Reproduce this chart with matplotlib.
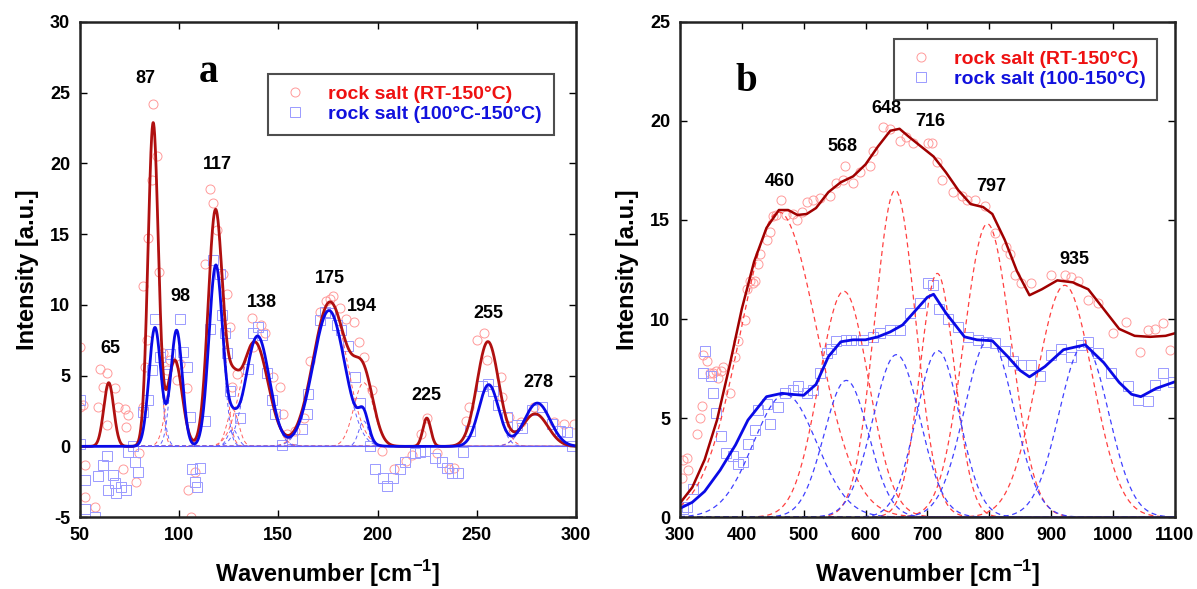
import matplotlib.pyplot as plt
import numpy as np

plt.rcParams['font.family'] = ['Liberation Sans', 'DejaVu Sans']
plt.rcParams['font.weight'] = 'bold'
plt.rcParams['axes.labelweight'] = 'bold'
plt.rcParams['axes.unicode_minus'] = False
plt.rcParams['mathtext.fontset'] = 'custom'
plt.rcParams['mathtext.bf'] = 'Liberation Sans:bold'
plt.rcParams['mathtext.rm'] = 'Liberation Sans:bold'

# ---------------- panel a : measured points ----------------
a_red_x = [50, 50, 51.7, 52.4, 52.4, 57.4, 59.2, 60, 61.7, 63.4, 63.4, 67.5, 69.2, 71.6, 72.5, 73.3,
           74.2, 78.3, 80, 81.7, 81.9, 82.8, 83.6, 84.4, 86.1, 86.9, 88.6, 90, 92, 93.7, 95.4, 98.7,
           100.4, 103.8, 104.6, 106, 108, 113, 115.5, 117.2, 118.9, 122.2, 123.9, 125.6, 126.4, 129,
           136.5, 137.4, 141, 143.2, 147.4, 150.8, 152.5, 154.2, 158.4, 163, 166, 171, 174, 176, 177.7,
           181, 184, 188.1, 190.6, 193.1, 197.3, 202.4, 208.3, 214.2, 217.5, 221.7, 225.1, 230.1, 236,
           238.5, 244.4, 246.1, 250.3, 253.6, 255.3, 262, 262.9, 266.3, 272.2, 278.9, 289, 294, 299.1]
a_red_y = [7.0, 2.8, 2.9, -1.35, -3.6, -4.3, 2.8, 5.5, 4.2, 5.2, 1.5, 4.1, 2.8, -1.6, 2.65, 1.4,
           2.2, -2.5, -0.5, 2.8, 11.3, 5.6, 7.5, 14.7, 18.8, 24.2, 20.5, 12.3, 6.6, 5.4, 6.1, 4.7,
           5.8, 4.1, -3.1, -5.0, -1.8, 12.9, 18.2, 17.2, 15.3, 12.2, 10.8, 8.4, 4.2, 5.1,
           9.1, 7.0, 8.6, 8.0, 4.9, 4.2, 2.3, 0.9, 1.1, 2.0, 6.0, 9.5, 10.3, 10.4, 10.6,
           9.8, 9.0, 8.8, 7.4, 6.3, 4.0, -0.3, -1.6, -1.0, -0.6, 0.9, 2.0, -0.5, -1.6,
           -1.5, 1.8, 2.8, 7.5, 8.0, 6.1, 4.9, 3.5, 2.1, 1.7, 2.8, 1.7, 1.6, 1.6]

a_blue_x = [50, 50, 52.4, 52.4, 57.4, 59, 61.7, 63.4, 64.2, 66.7, 67.5, 68.4, 70.9, 73.4, 74.2, 76.7,
            77.6, 79.3, 81.7, 84.4, 86.1, 87.8, 90.3, 92.8, 95.4, 100.4, 102.1, 103.8, 105.4, 106.3,
            108, 108.8, 110.5, 113, 115.5, 117.2, 120.6, 121.4, 123.1, 123.9, 125.6, 130.6, 134.8,
            137.4, 139.9, 141.6, 144.1, 146.6, 148.3, 151.6, 156.7, 161.7, 164.2, 165.1, 170.9, 173.4,
            175.9, 179.3, 181.8, 185.2, 188.5, 191.1, 196.1, 198.6, 202.8, 204.5, 207.9, 211.2, 213.8,
            218.8, 221.3, 223.9, 228.9, 232.3, 234.8, 237.3, 240.7, 243.2, 246.6, 252.5, 255.9, 258.4,
            260.9, 265.1, 270.2, 272.7, 277.8, 282.8, 287.9, 292.1, 295.5, 298]
a_blue_y = [3.3, 0.2, -2.4, -4.4, -5.0, -2.1, -1.35, -0.7, -3.1, -2.0, -2.6, -3.3, -2.9, -3.1, -0.4, 0.0,
            -1.1, -1.8, 2.4, 3.3, 5.4, 9.0, 6.3, 5.1, 6.5, 9.0, 6.7, 5.6, 2.1, -1.6,
            -2.5, -2.9, -1.5, 1.8, 8.3, 13.2, 12.2, 9.3, 8.0, 6.6, 3.9, 2.0, 5.5,
            8.0, 8.4, 7.9, 5.2, 3.3, 2.3, 0.1, 0.5, 1.2, 2.3, 3.7, 8.9, 9.5,
            9.4, 8.6, 8.2, 7.1, 4.9, 3.1, 0.0, -1.6, -2.2, -2.8, -2.2, -1.6, -1.1,
            -0.5, -0.4, -0.3, -0.8, -1.1, -1.5, -1.9, -1.9, -0.4, 1.1, 4.3, 4.4, 3.9,
            2.9, 2.1, 1.5, 1.3, 2.6, 2.8, 1.6, 1.1, 1.0, 0.0]

# panel a : fitted gaussian bands (centre, height, width)
a_red_pos = [64.5, 86.9, 97.8, 118.3, 127, 138, 176, 193, 224.8, 255.6, 279.4]
a_red_amp = [4.5, 22.8, 6.1, 16.6, 2.6, 7.4, 10.2, 4.5, 2.0, 7.4, 2.3]
a_red_wid = [2.5, 2.6, 3.7, 3.7, 3.0, 6.8, 8.4, 5.0, 2.0, 5.5, 6.5]

a_blue_pos = [87.8, 98.7, 118.5, 127, 139.5, 175.5, 193, 256, 280.5]
a_blue_amp = [8.4, 8.2, 12.8, 1.2, 7.8, 9.6, 1.8, 4.36, 3.06]
a_blue_wid = [3.0, 2.9, 3.5, 2.5, 6.0, 8.0, 2.5, 5.0, 6.5]

a_labels = ['65', '87', '98', '117', '138', '175', '194', '225', '255', '278']
a_label_x = [65.1, 83.1, 100.4, 119.2, 141.6, 176, 192, 224.7, 255.8, 281]
a_label_y = [6.9, 26.0, 10.56, 19.9, 10.2, 11.86, 9.85, 3.6, 9.38, 4.48]

# ---------------- panel b ----------------
b_red_x = [303, 305, 311, 313, 327, 332, 335, 338, 343, 348.5, 354, 359, 362, 367, 370, 381, 389, 394,
           405, 408, 413, 418.5, 421, 427, 429, 440, 445.5, 451, 456, 464, 472, 483, 488.5, 497, 505,
           515.5, 526, 542, 553, 564, 567, 580, 591, 607, 612.5, 628.6, 639, 655.6, 666, 677, 701.3,
           706.7, 714.8, 722.9, 741.7, 755.2, 763.3, 776.8, 793, 809, 827.8, 833, 841.3, 852, 868,
           900.4, 922, 932.5, 943.3, 959.5, 975.6, 999.8, 1021.3, 1042.9, 1056.4, 1067.1, 1080.6, 1091.4]
b_red_y = [1.96, 2.88, 2.97, 2.4, 4.2, 5.0, 5.6, 8.2, 7.9, 7.3, 7.3, 7.4, 7.0, 7.4, 7.6, 6.25, 8.1, 8.9,
           9.95, 11.5, 11.9, 11.8, 11.9, 12.8, 13.3, 14.0, 14.4, 15.2, 15.25, 16.0, 15.25, 15.3, 15.0, 15.4, 15.9,
           16.0, 16.1, 16.2, 16.85, 17.0, 17.7, 16.85, 17.4, 17.7, 18.5, 19.7, 19.6, 19.0, 19.2, 18.9, 18.87,
           18.87, 17.9, 17.0, 16.4, 16.2, 16.0, 16.0, 15.7, 14.33, 13.65, 13.3, 12.2, 11.8, 11.8,
           12.2, 12.2, 12.1, 11.9, 10.96, 10.8, 9.3, 9.86, 8.35, 9.45, 9.5, 9.8, 8.44]

b_blue_x = [305, 311, 321.5, 338, 340, 351, 354, 359, 367, 375, 386, 394, 402, 410, 421, 427, 440,
            445.5, 459, 470, 483, 491, 505, 515.5, 526, 537, 545, 553, 569, 577, 596, 612.5, 623, 639,
            655.6, 671.7, 688, 701, 709, 719.5, 733, 749, 765.6, 781.8, 795.3, 808.8, 825, 838.4, 852,
            868, 881.5, 900.4, 916.5, 932.5, 948.7, 959.5, 975.6, 997.1, 1024, 1040.2, 1056.4, 1067.1,
            1080.6, 1096.7]
b_blue_y = [0.4, 0.5, 1.41, 7.26, 8.4, 7.1, 6.25, 5.24, 4.1, 3.25, 3.1, 2.7, 2.8, 3.7, 4.4, 5.4, 5.7,
            4.7, 5.55, 6.25, 6.4, 6.6, 6.25, 6.4, 7.25, 8.27, 8.5, 8.9, 8.94, 8.94, 8.94, 9.1, 9.28, 9.45,
            9.45, 10.3, 10.8, 11.8, 11.72, 10.5, 10.0, 9.6, 9.1, 8.94, 8.85, 8.77, 8.4, 7.9, 7.68,
            7.68, 7.1, 8.2, 8.5, 8.1, 8.7, 8.85, 8.27, 7.26, 6.6, 5.9, 5.85, 6.65,
            7.26, 6.83]

# smoothed traces
b_fit_red_x = [300, 320, 340, 360, 380, 400, 420, 440, 460, 475, 490, 505, 520, 540, 560, 580, 600,
               620, 640, 655, 670, 690, 710, 730, 750, 770, 790, 805, 825, 845, 865, 885, 910, 935,
               960, 985, 1010, 1035, 1060, 1085, 1100]
b_fit_red_y = [0.7, 1.5, 2.9, 4.9, 7.6, 10.5, 12.9, 14.6, 15.5, 15.5, 15.25, 15.3, 15.6, 16.4, 16.9,
               17.2, 17.8, 18.7, 19.5, 19.6, 19.2, 18.7, 18.2, 17.4, 16.5, 15.8, 15.65, 15.3, 14.0,
               12.4, 11.2, 11.5, 11.95, 11.85, 11.5, 10.5, 9.5, 9.15, 9.1, 9.15, 9.28]
b_fit_blue_x = [300, 320, 340, 365, 390, 410, 440, 465, 480, 500, 520, 540, 560, 580, 600, 620, 640,
                660, 680, 700, 710, 730, 760, 780, 805, 830, 850, 865, 890, 920, 955, 985, 1010, 1030,
                1045, 1070, 1100]
b_fit_blue_y = [0.44, 0.75, 1.3, 2.37, 3.65, 4.9, 6.08, 6.25, 6.2, 6.15, 6.7, 8.1, 8.85, 8.95, 8.95,
                9.1, 9.35, 9.7, 10.4, 11.1, 11.25, 10.3, 9.1, 8.95, 8.9, 8.1, 7.4, 7.08, 7.6, 8.45,
                8.7, 7.8, 6.8, 6.2, 6.08, 6.5, 6.83]

# gaussian bands of panel b
b_red_pos = [460, 565, 648, 716, 797, 922]
b_red_amp = [15.4, 11.4, 16.5, 12.3, 14.8, 11.7]
b_red_wid = [62, 40, 33, 28, 38, 45]
b_blue_pos = [470, 569, 650, 717, 800, 953]
b_blue_amp = [6.2, 6.9, 8.2, 8.4, 9.0, 8.7]
b_blue_wid = [51, 36, 38, 35, 40, 40]

b_labels = ['460', '568', '648', '716', '797', '935']
b_label_x = [461.6, 563, 634, 704, 803.8, 938.4]
b_label_y = [16.93, 18.7, 20.6, 19.97, 16.7, 12.98]


def gauss(x, c, h, w):
    return h * np.exp(-(x - c) ** 2 / (2 * w ** 2))


def style_axes(ax):
    ax.tick_params(direction='in', length=5, width=1, top=True, right=True, labelsize=13, pad=7)
    for s in ax.spines.values():
        s.set_linewidth(1.8)
        s.set_color('#222222')
    for lab in ax.get_xticklabels() + ax.get_yticklabels():
        lab.set_fontweight('bold')


fig = plt.figure(figsize=(11.97, 5.89), dpi=100)
ax1 = fig.add_axes([0.0668, 0.122, 0.4144, 0.841])
ax2 = fig.add_axes([0.568, 0.122, 0.4135, 0.841])

pt_red = '#ff9a9a'
pt_blue = '#9a9aff'
fit_red = '#b01010'
fit_blue = '#0a0ae6'
mk = dict(linestyle='none', markerfacecolor='none', markeredgewidth=0.7, markersize=6.5)
leg_kw = dict(loc='upper left', fancybox=False, edgecolor='#222222',
              labelcolor=['#ee1111', '#1111dd'], prop={'size': 14, 'weight': 'bold'},
              handletextpad=0.9, borderpad=0.6, labelspacing=0.12, handlelength=1.6,
              borderaxespad=0)

# ---- panel a ----
xa = np.linspace(50, 300, 2000)
ax1.plot(a_red_x, a_red_y, marker='o', markeredgecolor=pt_red, **mk)
ax1.plot(a_blue_x, a_blue_y, marker='s', markeredgecolor=pt_blue, **mk)
ax1.axhline(0, color='#5050ff', lw=0.8)
for c, h, w in zip(a_red_pos, a_red_amp, a_red_wid):
    ax1.plot(xa, gauss(xa, c, h, w), color='#ff6060', lw=0.7, dashes=(4, 3))
for c, h, w in zip(a_blue_pos, a_blue_amp, a_blue_wid):
    ax1.plot(xa, gauss(xa, c, h, w), color='#6060ff', lw=0.7, dashes=(4, 3))
red_sum = sum(gauss(xa, c, h, w) for c, h, w in zip(a_red_pos, a_red_amp, a_red_wid))
blue_sum = sum(gauss(xa, c, h, w) for c, h, w in zip(a_blue_pos, a_blue_amp, a_blue_wid))
ax1.plot(xa, red_sum, color=fit_red, lw=2)
ax1.plot(xa, blue_sum, color=fit_blue, lw=2)
for t, x, y in zip(a_labels, a_label_x, a_label_y):
    ax1.text(x, y, t, ha='center', va='center', fontsize=13, fontweight='bold')
ax1.text(114.6, 26.4, 'a', ha='center', va='center', fontsize=28, fontweight='bold',
         family='Liberation Serif')

ax1.set_xlim(50, 300)
ax1.set_ylim(-5, 30)
ax1.set_xticks([50, 100, 150, 200, 250, 300])
ax1.set_yticks([-5, 0, 5, 10, 15, 20, 25, 30])
ax1.set_xlabel('Wavenumber [cm$^{\\mathbf{-1}}$]', fontsize=17, labelpad=10)
ax1.set_ylabel('Intensity [a.u.]', fontsize=17, labelpad=8)
style_axes(ax1)

h1 = ax1.plot([], [], marker='o', markeredgecolor=pt_red, **mk)[0]
h2 = ax1.plot([], [], marker='s', markeredgecolor=pt_blue, **mk)[0]
leg = ax1.legend([h1, h2], ['rock salt (RT-150°C)', 'rock salt (100°C-150°C)'],
                 bbox_to_anchor=(0.379, 0.895), **leg_kw)
leg.get_frame().set_linewidth(1.5)

# ---- panel b ----
xb = np.linspace(300, 1100, 1600)
ax2.plot(b_red_x, b_red_y, marker='o', markeredgecolor=pt_red, **mk)
ax2.plot(b_blue_x, b_blue_y, marker='s', markeredgecolor=pt_blue, **mk)
for c, h, w in zip(b_red_pos, b_red_amp, b_red_wid):
    ax2.plot(xb, gauss(xb, c, h, w), color='#ff4040', lw=0.9, dashes=(4, 3))
for c, h, w in zip(b_blue_pos, b_blue_amp, b_blue_wid):
    ax2.plot(xb, gauss(xb, c, h, w), color='#4040ff', lw=0.9, dashes=(4, 3))
ax2.plot(b_fit_red_x, b_fit_red_y, color='#a00000', lw=1.8)
ax2.plot(b_fit_blue_x, b_fit_blue_y, color=fit_blue, lw=2)
for t, x, y in zip(b_labels, b_label_x, b_label_y):
    ax2.text(x, y, t, ha='center', va='center', fontsize=13, fontweight='bold')
ax2.text(407.8, 22.0, 'b', ha='center', va='center', fontsize=28, fontweight='bold',
         family='Liberation Serif')

ax2.set_xlim(300, 1100)
ax2.set_ylim(0, 25)
ax2.set_xticks(range(300, 1101, 100))
ax2.set_yticks([0, 5, 10, 15, 20, 25])
ax2.set_xlabel('Wavenumber [cm$^{\\mathbf{-1}}$]', fontsize=17, labelpad=10)
ax2.set_ylabel('Intensity [a.u.]', fontsize=17, labelpad=8)
style_axes(ax2)

h3 = ax2.plot([], [], marker='o', markeredgecolor=pt_red, **mk)[0]
h4 = ax2.plot([], [], marker='s', markeredgecolor=pt_blue, **mk)[0]
leg2 = ax2.legend([h3, h4], ['rock salt (RT-150°C)', 'rock salt (100-150°C)'],
                  bbox_to_anchor=(0.432, 0.966), **leg_kw)
leg2.get_frame().set_linewidth(1.5)

fig.savefig('out.png', dpi=100)
